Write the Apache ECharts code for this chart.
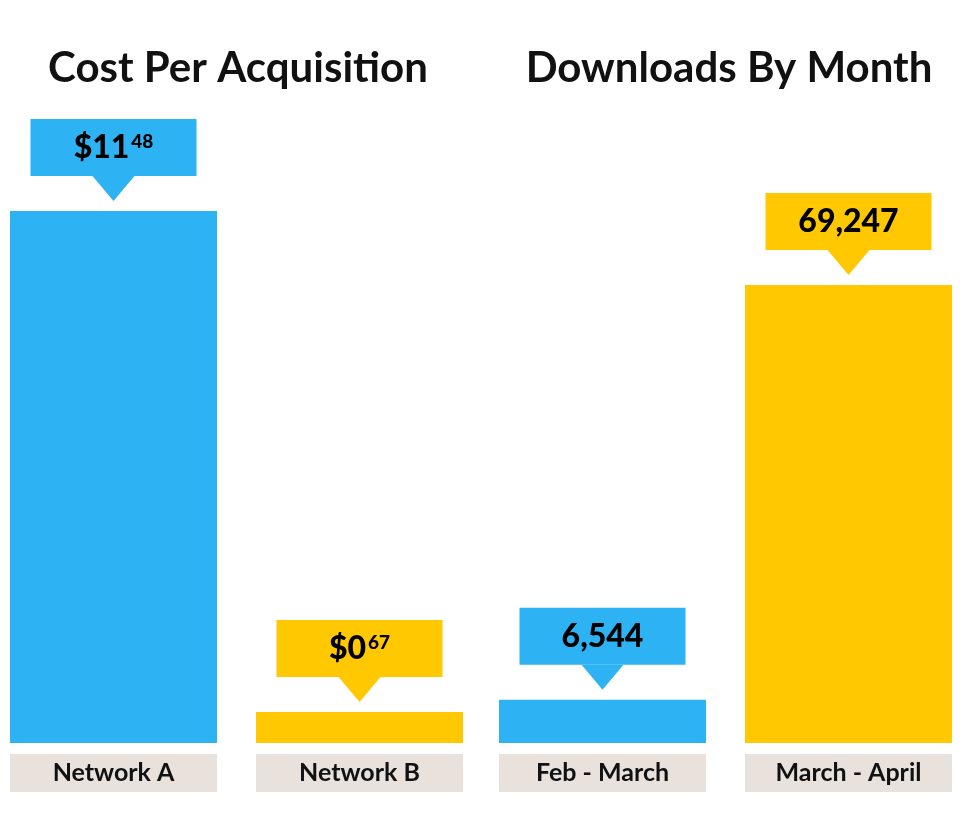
<!DOCTYPE html>
<html>
<head>
<meta charset="utf-8">
<script src="https://cdn.jsdelivr.net/npm/echarts@6/dist/echarts.min.js"></script>
<style>
    html, body {margin: 0; padding: 0; background: #fff;}
    #chart {width: 962px; height: 822px;}
</style>
</head>
<body>
<div id="chart"></div>
<script>
// 数据
var cpaCategories = ['Network A', 'Network B'];
var cpaValues = [11.48, 0.67];
var monthCategories = ['Feb - March', 'March - April'];
var downloadValues = [6544, 69247];
var barColors = ['#2db3f3', '#ffc800'];

var FONT = 'Lato';

// $11.48 -> $11 + superscript 48
function moneyText(v) {
    var parts = v.toFixed(2).split('.');
    return '{a|$' + parts[0] + '}{b|' + parts[1] + '}';
}

function countText(v) {
    return '{a|' + v.toLocaleString('en-US') + '}';
}

function makeCallout(formatter) {
    return function (params, api) {
        var p = api.coord([api.value(0), api.value(1)]);
        var color = barColors[params.dataIndex];
        var tipY = p[1] - 10;
        var baseY = tipY - 25;
        var topY = baseY - 57;
        return {
            type: 'group',
            children: [
                {type: 'rect', shape: {x: p[0] - 83, y: topY, width: 166, height: 57}, style: {fill: color}},
                {type: 'polygon', shape: {points: [[p[0] - 21, baseY], [p[0] + 21, baseY], [p[0], tipY]]}, style: {fill: color}},
                {
                    type: 'text', x: p[0], y: topY + 29,
                    style: {
                        text: formatter(api.value(1)),
                        align: 'center', verticalAlign: 'middle',
                        rich: {
                            a: {fontFamily: FONT, fontWeight: 900, fontSize: 32, lineHeight: 38, color: '#111'},
                            b: {fontFamily: FONT, fontWeight: 900, fontSize: 19, lineHeight: 19, verticalAlign: 'top', padding: [3, 0, 0, 2], color: '#111'}
                        }
                    }
                }
            ]
        };
    };
}

// 类目轴：标签做成底部灰色条
var catAxis = {
    type: 'category',
    boundaryGap: false,
    axisLine: {show: false},
    axisTick: {show: false},
    axisLabel: {
        margin: 11,
        backgroundColor: '#e8e1dc',
        width: 207,
        height: 38,
        lineHeight: 38,
        align: 'center',
        fontFamily: FONT,
        fontWeight: 'bold',
        fontSize: 25,
        color: '#111'
    }
};

var valAxis = {
    type: 'value',
    min: 0,
    max: 'dataMax',
    show: false,
    splitLine: {show: false}
};

var myChart = echarts.init(document.getElementById('chart'));
var option = {
    backgroundColor: '#fff',
    animation: false,
    title: [
        {text: 'Cost Per Acquisition', left: 233, top: 42, textAlign: 'center',
            textStyle: {fontFamily: FONT, fontWeight: 'bold', fontSize: 42, color: '#111'}},
        {text: 'Downloads By Month', left: 724, top: 42, textAlign: 'center',
            textStyle: {fontFamily: FONT, fontWeight: 'bold', fontSize: 42, color: '#111'}}
    ],
    grid: [
        {left: 113.5, width: 246, top: 211, bottom: 79, outerBoundsMode: 'none'},
        {left: 602.5, width: 246, top: 285, bottom: 79, outerBoundsMode: 'none'}
    ],
    xAxis: [
        Object.assign({gridIndex: 0, data: cpaCategories}, catAxis),
        Object.assign({gridIndex: 1, data: monthCategories}, catAxis)
    ],
    yAxis: [
        Object.assign({gridIndex: 0}, valAxis),
        Object.assign({gridIndex: 1}, valAxis)
    ],
    series: [
        {
            type: 'bar', xAxisIndex: 0, yAxisIndex: 0, barWidth: 207, clip: false,
            data: cpaValues.map(function (v, i) { return {value: v, itemStyle: {color: barColors[i]}}; })
        },
        {
            type: 'bar', xAxisIndex: 1, yAxisIndex: 1, barWidth: 207, clip: false,
            data: downloadValues.map(function (v, i) { return {value: v, itemStyle: {color: barColors[i]}}; })
        },
        {
            type: 'custom', xAxisIndex: 0, yAxisIndex: 0, clip: false,
            renderItem: makeCallout(moneyText),
            data: cpaValues.map(function (v, i) { return [i, v]; })
        },
        {
            type: 'custom', xAxisIndex: 1, yAxisIndex: 1, clip: false,
            renderItem: makeCallout(countText),
            data: downloadValues.map(function (v, i) { return [i, v]; })
        }
    ]
};
myChart.setOption(option);
</script>
</body>
</html>
